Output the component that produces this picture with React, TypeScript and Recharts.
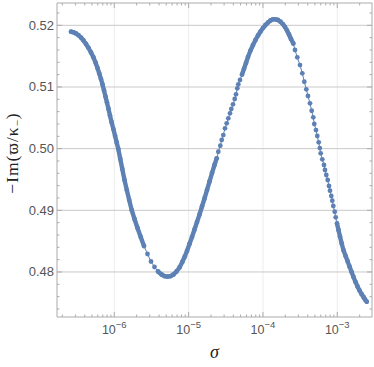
import React from 'react';
import { ComposedChart, Line, XAxis, YAxis, CartesianGrid, ReferenceArea } from 'recharts';

const sigma = [
  2.615e-7, 2.825e-7, 3.05e-7, 3.3e-7, 3.565e-7, 3.85e-7, 4.16e-7, 4.5e-7, 4.86e-7, 5.25e-7,
  5.59e-7, 5.94e-7, 6.28e-7, 6.62e-7, 6.94e-7, 7.27e-7, 7.61e-7, 7.97e-7, 8.36e-7, 8.75e-7,
  9.17e-7, 9.72e-7, 1.025e-6, 1.077e-6, 1.132e-6, 1.204e-6, 1.281e-6, 1.372e-6, 1.473e-6, 1.586e-6,
  1.714e-6, 1.87e-6, 2.052e-6, 2.266e-6, 2.509e-6, 2.797e-6, 3.117e-6, 3.474e-6, 3.872e-6, 4.315e-6,
  4.735e-6, 5.196e-6, 5.703e-6, 6.259e-6, 6.868e-6, 7.539e-6, 8.221e-6, 8.881e-6, 9.508e-6, 1.027e-5,
  1.11e-5, 1.2e-5, 1.296e-5, 1.401e-5, 1.513e-5, 1.635e-5, 1.766e-5, 1.909e-5, 2.063e-5, 2.228e-5,
  2.386e-5,
  2.507e-5, 2.668e-5, 2.786e-5, 2.927e-5, 3.085e-5, 3.252e-5, 3.417e-5, 3.602e-5, 3.75e-5, 3.954e-5,
  4.168e-5, 4.339e-5, 4.517e-5, 4.658e-5, 4.91e-5,
  5.224e-5, 5.558e-5, 5.913e-5, 6.29e-5, 6.799e-5, 7.345e-5, 7.935e-5, 8.577e-5, 9.268e-5, 1.001e-4,
  1.082e-4, 1.169e-4, 1.263e-4, 1.365e-4, 1.475e-4, 1.594e-4, 1.722e-4, 1.861e-4, 1.98e-4, 2.106e-4,
  2.24e-4, 2.384e-4, 2.56e-4,
  2.698e-4, 2.897e-4, 3.15e-4, 3.383e-4, 3.599e-4, 3.829e-4, 4.035e-4, 4.292e-4, 4.524e-4, 4.754e-4,
  4.904e-4, 5.169e-4, 5.382e-4, 5.623e-4, 5.817e-4, 5.981e-4, 6.285e-4, 6.625e-4, 6.834e-4, 7.114e-4,
  7.43e-4, 7.735e-4, 7.978e-4, 8.306e-4, 8.568e-4, 8.838e-4, 9.231e-4, 9.52e-4,
  9.911e-4, 1.038e-3, 1.088e-3, 1.146e-3, 1.212e-3, 1.29e-3, 1.372e-3, 1.46e-3, 1.553e-3, 1.652e-3,
  1.758e-3, 1.87e-3, 1.99e-3, 2.117e-3, 2.252e-3, 2.359e-3, 2.487e-3,
];

const value = [
  0.51896, 0.51886, 0.51867, 0.51839, 0.51802, 0.51754, 0.51697, 0.51632, 0.51559, 0.51478,
  0.51397, 0.51308, 0.51218, 0.51129, 0.5104, 0.50943, 0.50845, 0.50748, 0.50643, 0.50537,
  0.50432, 0.50318, 0.50205, 0.501,
  0.49994, 0.49832, 0.4967, 0.49492, 0.49329, 0.49167, 0.49005, 0.48859, 0.48713, 0.48567, 0.48421,
  0.48292, 0.4817, 0.48081, 0.48008, 0.47959, 0.47932, 0.47924, 0.47932, 0.47959, 0.48008,
  0.48073, 0.48162, 0.48251, 0.4834, 0.48454, 0.48567, 0.48689, 0.4881, 0.48932, 0.49062,
  0.49192, 0.49329, 0.49467, 0.49605, 0.49735, 0.49843,
  0.4995, 0.50048, 0.5014, 0.50221, 0.5033, 0.50411, 0.50492, 0.50573, 0.50643, 0.50719,
  0.50805, 0.50881, 0.50978, 0.51043, 0.51113,
  0.51202, 0.51295, 0.51389, 0.51486, 0.51591, 0.51681, 0.51762, 0.51835, 0.51899, 0.51956,
  0.52005, 0.52045, 0.52078, 0.52097, 0.52097, 0.52086, 0.52058, 0.52016, 0.51972, 0.51916,
  0.51851, 0.51778, 0.51705,
  0.516, 0.51481, 0.51356, 0.51222, 0.51085, 0.50962, 0.50854, 0.50735, 0.50615, 0.50508,
  0.504, 0.50302, 0.50205, 0.50103, 0.5001, 0.49924, 0.49827, 0.49735, 0.49654, 0.49573,
  0.49492, 0.49394, 0.49318, 0.49232, 0.49156, 0.4907, 0.48977, 0.48887,
  0.48786, 0.48681, 0.48575, 0.48462, 0.48352, 0.48262, 0.48178, 0.48089, 0.48003, 0.47919,
  0.47838, 0.47765, 0.477, 0.47643, 0.47594, 0.47554, 0.47518,
];

// index ranges where the sampled points are packed into a continuous band
const denseRuns = [[0, 34], [38, 60], [76, 98], [127, 143]];

const yMajor = [0.48, 0.49, 0.5, 0.51, 0.52];
const yTicks = [
  0.474, 0.476, 0.478, 0.48, 0.482, 0.484, 0.486, 0.488, 0.49, 0.492, 0.494, 0.496, 0.498,
  0.5, 0.502, 0.504, 0.506, 0.508, 0.51, 0.512, 0.514, 0.516, 0.518, 0.52, 0.522,
];
const yLabels = ['0.48', '0.49', '0.50', '0.51', '0.52'];
const xMajor = [1e-6, 1e-5, 1e-4, 1e-3];
const xTicks = [
  2e-7, 3e-7, 4e-7, 5e-7, 6e-7, 7e-7, 8e-7, 9e-7,
  1e-6, 2e-6, 3e-6, 4e-6, 5e-6, 6e-6, 7e-6, 8e-6, 9e-6,
  1e-5, 2e-5, 3e-5, 4e-5, 5e-5, 6e-5, 7e-5, 8e-5, 9e-5,
  1e-4, 2e-4, 3e-4, 4e-4, 5e-4, 6e-4, 7e-4, 8e-4, 9e-4,
  1e-3, 2e-3,
];
const xDomain = [1.695e-7, 2.931e-3];
const yDomain = [0.4727, 0.52362];

const W = 374;
const H = 367;
const LEFT = 57;
const TOP = 3;
const RIGHT = 372;
const BOTTOM = 317;
const COLOR = '#5e81b5';
const FRAME = '#ababab';
const LABEL = '#555555';
const TICKFONT = '"Liberation Sans", Arial, sans-serif';
const SERIF = '"Liberation Serif", "Times New Roman", serif';

const rows = sigma.map((s, i) => ({
  sigma: s,
  value: value[i],
  dense: denseRuns.some(([a, b]) => i >= a && i <= b) ? value[i] : null,
}));

const isXMajor = (v: number) => xMajor.some((m) => Math.abs(Math.log10(v) - Math.log10(m)) < 1e-6);
const yMajorIndex = (v: number) => yMajor.findIndex((m) => Math.abs(v - m) < 1e-7);

const XTick = (props: any) => {
  const { x, payload } = props;
  const v = payload.value;
  const major = isXMajor(v);
  const len = major ? 5 : 2.5;
  const exp = Math.round(Math.log10(v));
  return (
    <g>
      <line x1={x} x2={x} y1={BOTTOM} y2={BOTTOM - len} stroke={FRAME} strokeWidth={1} />
      <line x1={x} x2={x} y1={TOP} y2={TOP + len} stroke={FRAME} strokeWidth={1} />
      {major && (
        <text x={x} y={BOTTOM + 16.5} textAnchor="middle" fill={LABEL} fontFamily={TICKFONT} fontSize={12.5}>
          <tspan>10</tspan>
          <tspan dy={-5.5} fontSize={9.5}>{'\u2212' + Math.abs(exp)}</tspan>
        </text>
      )}
    </g>
  );
};

const YTick = (props: any) => {
  const { y, payload } = props;
  const v = payload.value;
  const mi = yMajorIndex(v);
  const major = mi >= 0;
  const len = major ? 5 : 2.5;
  return (
    <g>
      <line x1={LEFT} x2={LEFT + len} y1={y} y2={y} stroke={FRAME} strokeWidth={1} />
      <line x1={RIGHT} x2={RIGHT - len} y1={y} y2={y} stroke={FRAME} strokeWidth={1} />
      {major && (
        <text x={LEFT - 3} y={y + 4.5} textAnchor="end" fill={LABEL} fontFamily={TICKFONT} fontSize={13}>
          {yLabels[mi]}
        </text>
      )}
    </g>
  );
};

const YLabel = () => (
  <text
    x={17.5}
    y={153}
    transform="rotate(-90, 17.5, 153)"
    textAnchor="middle"
    fontFamily={SERIF}
    fontSize={17.5}
    letterSpacing={1}
    fill="#222"
  >
    <tspan>{'\u2212Im(\u03D6/\u03BA'}</tspan>
    <tspan dy={3.5} fontSize={11}>{'\u2212'}</tspan>
    <tspan dy={-3.5}>)</tspan>
  </text>
);

const XLabel = () => (
  <text
    x={(LEFT + RIGHT) / 2}
    y={358}
    textAnchor="middle"
    fontFamily={SERIF}
    fontStyle="italic"
    fontSize={18}
    fill="#222"
  >
    {'\u03C3'}
  </text>
);

export default function App() {
  return (
    <div style={{ position: 'absolute', left: 0, top: 0, width: W, height: H, background: '#fff' }}>
      <ComposedChart
        width={W}
        height={H}
        data={rows}
        margin={{ top: TOP, right: W - RIGHT, bottom: 0, left: 0 }}
      >
        <CartesianGrid horizontal={false} verticalValues={xMajor} stroke="#ececec" strokeWidth={1} />
        <CartesianGrid vertical={false} horizontalValues={yMajor} stroke="#c9c9c9" strokeWidth={1} />
        <XAxis
          dataKey="sigma"
          type="number"
          scale="log"
          domain={xDomain}
          allowDataOverflow
          ticks={xTicks}
          interval={0}
          tick={<XTick />}
          tickLine={false}
          axisLine={false}
          tickSize={0}
          tickMargin={0}
          height={H - BOTTOM}
          label={<XLabel />}
        />
        <YAxis
          type="number"
          domain={yDomain}
          allowDataOverflow
          ticks={yTicks}
          interval={0}
          tick={<YTick />}
          tickLine={false}
          axisLine={false}
          tickSize={0}
          tickMargin={0}
          width={LEFT}
          label={<YLabel />}
        />
        <ReferenceArea
          x1={xDomain[0]}
          x2={xDomain[1]}
          y1={yDomain[0]}
          y2={yDomain[1]}
          fill="none"
          fillOpacity={0}
          stroke={FRAME}
          strokeWidth={1}
          ifOverflow="visible"
        />
        <Line
          dataKey="dense"
          type="linear"
          stroke={COLOR}
          strokeWidth={4.4}
          strokeLinecap="round"
          strokeLinejoin="round"
          dot={false}
          activeDot={false}
          connectNulls={false}
          isAnimationActive={false}
        />
        <Line
          dataKey="value"
          type="linear"
          stroke={COLOR}
          strokeWidth={1}
          dot={{ r: 2.4, fill: COLOR, stroke: 'none' }}
          activeDot={false}
          isAnimationActive={false}
        />
      </ComposedChart>
    </div>
  );
}
